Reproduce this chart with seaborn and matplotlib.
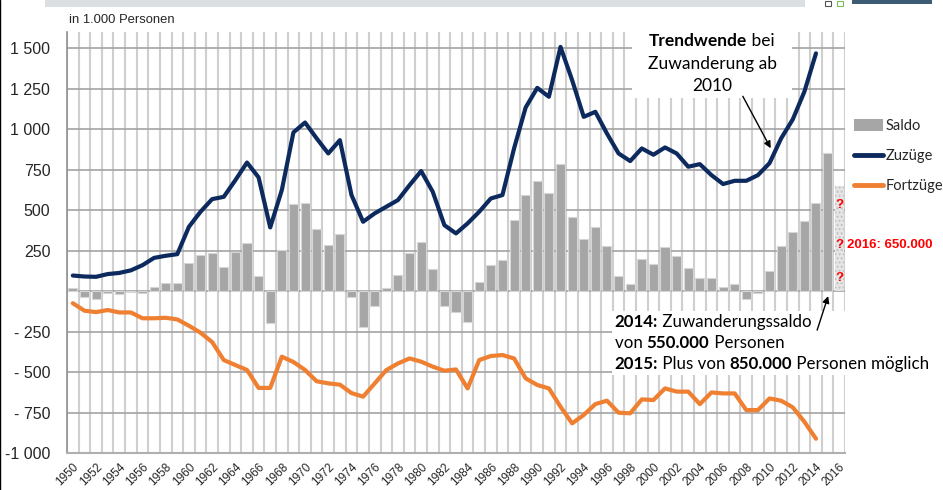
import matplotlib
matplotlib.use("Agg")
import matplotlib.pyplot as plt
import seaborn as sns
import numpy as np
from matplotlib.patches import Patch, Rectangle
from matplotlib.lines import Line2D
from matplotlib.offsetbox import TextArea, HPacker, VPacker, DrawingArea, AnnotationBbox

# Wanderungen zwischen Deutschland und dem Ausland (in 1.000 Personen)
jahre = list(range(1950, 2017))
saldo = [16, -35, -49, -14, -21, -8, -10, 23, 49, 49,
         175, 224, 235, 150, 243, 298, 93, -200, 255, 539,
         547, 381, 284, 354, -35, -224, -93, 21, 99, 233,
         300, 136, -93, -128, -189, 54, 161, 191, 442, 593,
         679, 603, 784, 459, 319, 397, 278, 93, 43, 198,
         169, 274, 216, 142, 78, 78, 23, 43, -51, -10,
         123, 280, 366, 430, 547, 850, 650]

jahre_linie = list(range(1950, 2015))
zuzuege = [96, 90, 88, 105, 112, 128, 160, 205, 218, 228,
           397, 490, 568, 582, 685, 794, 702, 393, 624, 980,
           1041, 943, 850, 932, 593, 428, 480, 521, 562, 654,
           741, 613, 407, 356, 418, 490, 572, 593, 881, 1134,
           1255, 1200, 1508, 1303, 1076, 1107, 973, 850, 803, 881,
           842, 887, 850, 768, 784, 716, 661, 681, 681, 716,
           790, 943, 1060, 1231, 1468]
fortzuege = [-75, -121, -130, -117, -132, -132, -168, -168, -165, -175,
             -214, -257, -315, -426, -457, -487, -598, -598, -405, -438,
             -487, -557, -570, -578, -630, -652, -570, -488, -447, -416,
             -436, -467, -492, -484, -601, -426, -401, -395, -416, -539,
             -580, -601, -714, -817, -765, -698, -677, -751, -755, -669,
             -673, -601, -621, -621, -698, -626, -632, -632, -735, -735,
             -663, -677, -718, -807, -912]

y_ticks = [-1000, -750, -500, -250, 0, 250, 500, 750, 1000, 1250, 1500]
y_labels = ["-1 000", "- 750", "- 500", "- 250", "", "250", "500", "750",
            "1 000", "1 250", "1 500"]

farbe_saldo = "#a6a6a6"
farbe_zuzug = "#0d2a5e"
farbe_fortzug = "#ef7f31"

sns.set_style("white")
plt.rcParams["font.family"] = ["Liberation Sans", "DejaVu Sans"]

fig = plt.figure(figsize=(9.43, 4.90), dpi=100)
ax = fig.add_axes([67 / 943, 1 - 453 / 490, (845 - 67) / 943, (453 - 32) / 490])

# Saldo als Balken
sns.barplot(x=jahre, y=saldo, native_scale=True, width=0.78, color=farbe_saldo,
            saturation=1, edgecolor="#d6d6d6", linewidth=0.8, ax=ax, zorder=2)
# 2016 nur geschaetzt -> gepunktet
letzter = ax.patches[-1]
letzter.set_facecolor("#e6e6e6")
letzter.set_edgecolor("#c2c2c2")
letzter.set_hatch("....")
letzter.set_linewidth(0)

# Zuzuege und Fortzuege als Linien
sns.lineplot(x=jahre_linie, y=zuzuege, color=farbe_zuzug, lw=3, ax=ax, zorder=3,
             solid_joinstyle="round", solid_capstyle="round")
sns.lineplot(x=jahre_linie, y=fortzuege, color=farbe_fortzug, lw=3, ax=ax, zorder=3,
             solid_joinstyle="round", solid_capstyle="round")

ax.set_xlim(1949.5, 2016.5)
ax.set_ylim(-1000, 1600)
ax.set_yticks(y_ticks)
ax.set_yticklabels(y_labels, fontsize=11.5)
ax.set_xticks(range(1950, 2017, 2))
ax.set_xticklabels([str(j) for j in range(1950, 2017, 2)], rotation=45,
                   ha="right", rotation_mode="anchor", fontsize=8.5)
ax.set_xticks(np.arange(1949.5, 2017, 1), minor=True)
ax.set_xlabel("")
ax.set_ylabel("")

ax.set_axisbelow(True)
ax.yaxis.grid(True, color="#a3a3a3", lw=1.2)
ax.xaxis.grid(True, which="minor", color="#cfcfcf", lw=1.5)
ax.xaxis.grid(False, which="major")
ax.tick_params(axis="x", which="both", length=0, pad=6)
ax.tick_params(axis="y", length=5, color="#a3a3a3", width=1.2, pad=7)
for s in ["top", "right"]:
    ax.spines[s].set_visible(False)
ax.spines["left"].set_color("#909090")
ax.spines["bottom"].set_color("#b0b0b0")
ax.spines["left"].set_linewidth(1.2)
ax.spines["bottom"].set_linewidth(1.5)

fig.text(69 / 943, 1 - 23 / 490, "in 1.000 Personen", fontsize=9.4, va="baseline")

# Legende
handles = [Patch(facecolor=farbe_saldo, edgecolor="none"),
           Line2D([0], [0], color=farbe_zuzug, lw=3.5, solid_capstyle="round"),
           Line2D([0], [0], color=farbe_fortzug, lw=3.5, solid_capstyle="round")]
ax.legend(handles, ["Saldo", "Zuzüge", "Fortzüge"], loc="upper left",
          bbox_to_anchor=(854 / 943, 1 - 119 / 490), bbox_transform=fig.transFigure,
          frameon=False, prop={"family": "Lato", "size": 10.5}, handlelength=2.0,
          handleheight=0.9, handletextpad=0.15, labelspacing=1.1,
          borderpad=0, borderaxespad=0)

# Schaetzung 2016
rot = dict(color="#ff0000", fontweight="bold", fontsize=9.5, va="center")
ax.text(2016, 531, "?", ha="center", **rot)
ax.text(2016, 284, "?", ha="center", **rot)
ax.text(2016, 80, "?", ha="center", **rot)
ax.text(2016.65, 284, "2016: 650.000", ha="left", **rot)

# Textkaesten
normal = dict(family="Lato", size=12.5, color="black")
fett = dict(family="Lato", size=12.5, color="black", weight="bold")
zeile1 = HPacker(children=[TextArea("Trendwende", textprops=fett),
                           TextArea(" bei", textprops=normal)], pad=0, sep=0)
kasten_oben = VPacker(children=[zeile1, TextArea("Zuwanderung ab", textprops=normal),
                                TextArea("2010", textprops=normal)],
                      align="center", pad=0, sep=4.5)
kasten_oben = HPacker(children=[DrawingArea(8, 1), kasten_oben, DrawingArea(8, 1)],
                      align="center", pad=0, sep=0)
ab1 = AnnotationBbox(kasten_oben, (2005.05, 1592), xycoords="data",
                     box_alignment=(0.5, 1), frameon=True, pad=0.3,
                     bboxprops=dict(facecolor="white", edgecolor="none"))
ab1.set_zorder(1.5)
ax.add_artist(ab1)

normal2 = dict(family="Lato", size=12.2, color="black")
fett2 = dict(family="Lato", size=12.2, color="black", weight="bold")
z1 = HPacker(children=[TextArea("2014:", textprops=fett2),
                       TextArea(" Zuwanderungssaldo", textprops=normal2)], pad=0, sep=0)
z2 = HPacker(children=[TextArea("von ", textprops=normal2),
                       TextArea("550.000", textprops=fett2),
                       TextArea(" Personen", textprops=normal2)], pad=0, sep=0)
z3 = HPacker(children=[TextArea("2015:", textprops=fett2),
                       TextArea(" Plus von ", textprops=normal2),
                       TextArea("850.000", textprops=fett2),
                       TextArea(" Personen möglich", textprops=normal2)], pad=0, sep=0)
kasten_unten = VPacker(children=[z1, z2, z3], align="left", pad=0, sep=3.7)
ab2 = AnnotationBbox(kasten_unten, (1996.65, -140), xycoords="data",
                     box_alignment=(0, 1), frameon=True, pad=0.2,
                     bboxprops=dict(facecolor="white", edgecolor="none"))
ab2.set_zorder(1.5)
ax.add_artist(ab2)

# Pfeile
pfeil = dict(arrowstyle="-|>", color="black", lw=1, mutation_scale=10, shrinkA=0, shrinkB=0)
ax.annotate("", xy=(2010.1, 882), xytext=(2007.7, 1203), arrowprops=pfeil, zorder=4)
ax.annotate("", xy=(2015.05, -31), xytext=(2014.1, -241), arrowprops=pfeil, zorder=4)

# Kopfleiste der Folie
fig.add_artist(Rectangle((45 / 943, 1 - 7 / 490), 760 / 943, 7 / 490,
                         transform=fig.transFigure, color="#dcdfe1", lw=0))
fig.add_artist(Rectangle((852 / 943, 1 - 4 / 490), 80 / 943, 4 / 490,
                         transform=fig.transFigure, color="#3e5b74", lw=0))
fig.add_artist(Rectangle((825 / 943, 1 - 6 / 490), 6 / 943, 5 / 490,
                         transform=fig.transFigure, facecolor="white", edgecolor="#555555", lw=0.8))
fig.add_artist(Rectangle((837 / 943, 1 - 6 / 490), 6 / 943, 5 / 490,
                         transform=fig.transFigure, facecolor="white", edgecolor="#7cbf5a", lw=0.8))
fig.add_artist(Line2D([0.0005, 0.0005], [0, 1], transform=fig.transFigure, color="black", lw=1))

fig.savefig("out.png", dpi=100)
